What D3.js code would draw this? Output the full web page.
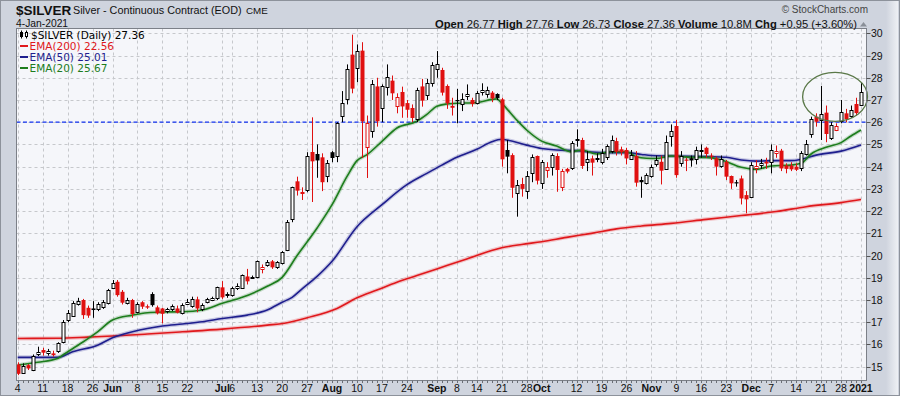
<!DOCTYPE html>
<html>
<head>
<meta charset="utf-8">
<script src="https://cdn.jsdelivr.net/npm/d3@7"></script>
<style>
  body { margin: 0; background: #fff; }
  svg { display: block; }
</style>
</head>
<body>
<svg id="chart" width="900" height="396"></svg>
<script>
// Daily OHLC, 4 May 2020 .. 4 Jan 2021 (170 sessions)
const openP = [15.10,14.73,15.07,14.85,15.57,15.75,15.60,15.60,15.67,16.12,17.10,17.28,17.82,18.00,17.65,17.62,17.58,17.70,17.85,18.57,
  18.82,18.37,17.88,18.00,17.44,17.90,17.72,18.27,17.67,17.62,17.47,17.58,17.62,17.40,17.85,17.70,18.03,17.58,17.88,18.00,
  18.07,18.57,18.20,18.24,18.55,18.54,19.06,19.00,19.02,19.40,19.56,19.74,19.47,19.66,20.26,21.61,23.34,22.80,22.92,24.66,
  24.57,24.42,23.57,24.65,24.46,26.26,27.06,29.04,28.47,29.22,24.87,25.59,27.61,26.64,27.57,27.87,26.71,27.36,26.86,26.64,
  26.16,27.61,27.21,27.76,28.38,28.35,27.63,26.73,27.00,26.82,27.18,27.00,26.85,27.34,27.30,27.33,27.27,27.03,24.75,24.52,
  22.80,23.22,22.92,23.73,24.48,23.28,23.85,24.00,24.48,23.10,23.90,23.92,25.20,25.20,24.18,24.37,24.35,24.22,24.42,24.72,
  25.15,24.78,24.75,24.33,24.48,23.40,23.28,23.55,24.12,24.22,23.92,25.38,25.83,24.15,24.32,24.38,24.33,24.74,24.85,24.50,
  24.37,24.03,24.22,23.58,23.30,23.47,22.72,22.65,23.98,24.10,24.22,24.22,24.60,24.72,24.05,24.05,24.00,23.92,24.57,25.47,
  26.25,26.10,26.43,25.27,25.68,26.07,26.40,26.28,26.82,26.77];
const highP = [15.20,15.15,15.12,15.55,15.90,15.85,15.80,15.72,16.10,17.10,17.55,17.95,18.10,18.05,17.75,17.95,17.90,18.00,18.50,18.90,
  18.90,18.45,18.10,18.05,17.90,17.95,17.80,18.35,17.75,17.65,17.65,17.80,17.75,17.85,18.05,18.15,18.15,17.85,18.10,18.15,
  18.60,18.85,18.35,18.60,18.75,19.15,19.40,19.10,19.78,19.60,19.80,19.80,19.75,20.20,21.60,23.10,23.55,23.07,24.65,26.22,
  25.00,24.60,24.30,24.70,26.00,27.40,28.60,29.94,29.50,29.60,26.30,27.90,28.00,27.70,28.60,28.10,27.30,27.60,27.00,26.80,
  27.55,27.95,27.95,28.70,29.20,28.45,27.70,27.10,27.50,27.30,27.70,27.10,27.40,27.75,27.60,27.40,27.30,27.10,25.20,24.60,
  23.40,23.50,23.80,24.55,24.50,24.30,24.20,24.60,24.60,23.90,23.95,25.15,25.68,25.30,24.70,24.50,24.60,24.80,25.00,25.40,
  25.30,24.90,24.85,24.75,24.70,23.55,23.70,24.10,24.50,24.50,25.40,25.90,26.10,24.70,24.40,24.50,24.90,25.00,24.90,24.60,
  24.45,24.50,24.30,23.60,23.40,23.60,22.90,24.20,24.30,24.35,24.40,25.00,24.95,24.80,24.15,24.20,24.15,24.70,25.20,26.25,
  26.40,27.63,26.75,26.00,25.95,27.00,26.60,26.75,27.10,27.76];
const lowP = [14.62,14.70,14.85,14.80,15.48,15.50,15.50,15.45,15.62,16.05,17.00,17.25,17.75,17.15,17.20,17.20,17.50,17.60,17.80,18.50,
  18.15,17.80,17.80,17.20,17.40,17.60,17.60,17.70,17.35,16.95,17.40,17.50,17.40,17.35,17.80,17.65,17.45,17.50,17.85,17.95,
  18.00,18.05,18.10,18.15,18.45,18.50,18.70,18.95,18.98,19.20,19.50,19.40,19.40,19.60,20.20,21.50,22.70,22.50,22.85,22.41,
  23.50,22.90,23.30,24.20,24.20,26.00,26.80,27.30,27.80,24.39,23.49,25.30,25.80,26.00,27.20,27.00,26.40,26.20,26.20,26.00,
  26.00,26.70,27.00,27.60,28.00,27.20,26.60,26.30,25.95,26.50,27.00,26.70,26.80,27.20,27.10,26.90,27.00,24.00,23.70,22.60,
  21.75,22.65,22.55,23.30,23.20,23.00,23.50,23.60,22.87,22.90,23.70,23.85,24.90,23.90,23.80,23.60,24.20,24.10,24.30,24.60,
  24.50,24.50,24.10,24.30,23.10,22.60,23.20,23.50,24.00,23.20,23.85,24.90,23.50,24.00,23.80,24.00,24.10,24.40,24.40,24.30,
  23.60,23.95,23.40,23.00,23.10,22.30,21.90,22.60,23.70,23.90,23.90,23.70,24.40,23.80,23.70,23.80,23.80,23.80,24.50,25.30,
  25.80,25.20,25.10,25.20,25.60,25.95,26.00,26.20,26.30,26.73];
const closeP = [14.68,15.04,14.92,15.48,15.67,15.63,15.70,15.52,16.05,17.02,17.43,17.88,17.97,17.32,17.30,17.55,17.82,17.92,18.45,18.78,
  18.22,17.88,18.00,17.37,17.82,17.70,17.66,17.77,17.40,17.38,17.58,17.73,17.43,17.77,17.92,18.03,17.62,17.77,18.03,18.08,
  18.57,18.12,18.25,18.54,18.65,19.11,18.84,19.04,19.74,19.49,19.71,19.47,19.69,20.14,21.51,23.07,22.92,22.85,24.46,24.24,
  24.28,23.30,24.16,24.39,25.96,26.86,28.39,27.51,29.22,26.04,25.96,27.72,26.04,27.61,28.02,27.30,27.12,26.71,26.56,26.19,
  27.45,26.97,27.76,28.59,28.62,27.33,26.85,26.65,26.97,27.03,27.27,26.82,27.30,27.45,27.46,27.07,27.09,24.33,24.45,23.05,
  23.17,23.00,23.58,24.45,23.37,24.22,23.97,24.52,23.85,23.80,23.78,25.05,25.25,24.03,24.33,24.18,24.37,24.63,24.93,25.20,
  24.67,24.65,24.37,24.52,23.28,23.30,23.62,23.97,24.30,23.82,25.12,25.60,23.62,24.48,24.27,24.28,24.75,24.76,24.57,24.47,
  24.00,24.33,23.55,23.25,23.27,22.57,22.53,24.07,24.05,24.18,24.14,24.75,24.70,23.92,23.90,23.88,23.86,24.60,25.00,26.13,
  26.02,26.37,25.47,25.87,25.85,26.47,26.13,26.55,26.41,27.36];

// moving averages at selected sessions
const ema200Day = [0,8,14,19,26,33,41,50,54,58,64,68,72,76,80,84,90,97,101,105,110,115,120,125,131,138,145,152,158,165,169];
const ema200Val = [16.27,16.28,16.33,16.38,16.47,16.57,16.69,16.87,16.98,17.20,17.62,18.10,18.45,18.80,19.10,19.40,19.85,20.35,20.50,20.62,20.82,21.00,21.20,21.33,21.45,21.63,21.80,21.98,22.20,22.38,22.52];
const ema50Day = [0,8,11,16,19,23,26,29,33,37,41,46,50,53,55,57,60,63,68,73,78,82,85,88,92,95,97,98,102,105,108,112,115,118,122,125,128,131,138,142,145,148,152,155,157,160,165,169];
const ema50Val = [15.42,15.42,15.67,15.97,16.30,16.57,16.72,16.83,16.92,17.02,17.17,17.32,17.55,17.90,18.12,18.50,19.06,19.74,21.30,22.29,23.19,23.70,24.07,24.42,24.78,25.12,25.23,25.20,24.97,24.82,24.75,24.72,24.66,24.63,24.63,24.55,24.49,24.48,24.45,24.42,24.30,24.25,24.27,24.27,24.33,24.52,24.70,24.98];
const ema20Day = [0,4,8,9,13,16,19,23,26,29,33,37,41,45,50,53,56,60,63,66,68,70,73,76,80,82,84,86,88,92,96,97,100,102,105,108,111,113,116,119,122,124,126,128,131,135,138,141,145,148,151,155,157,159,162,165,167,169];
const ema20Val = [15.07,15.20,15.37,15.52,16.10,16.57,17.10,17.32,17.43,17.46,17.47,17.55,17.85,18.12,18.62,19.02,20.00,21.24,22.29,23.56,24.27,24.54,25.14,25.74,26.04,26.35,26.72,26.82,26.85,26.89,27.05,26.85,26.10,25.65,25.15,24.93,24.67,24.75,24.57,24.67,24.67,24.45,24.38,24.37,24.48,24.42,24.42,24.30,23.97,23.88,24.03,24.07,24.15,24.57,24.87,25.08,25.38,25.65];

// axis labels
const yTicks = d3.range(15, 31);
const xTickDay = [0,5,10,15,19,24,29,34,41,43,48,53,58,63,68,73,78,84,88,92,97,102,105,112,117,122,127,132,137,142,147,151,156,161,165,169];
const xTickText = ["4","11","18","26","Jun","8","15","22","Jul","6","13","20","27","Aug","10","17","24","Sep","8","14","21","28","Oct","12","19","26","Nov","9","16","23","Dec","7","14","21","28","2021"];
const xTickBold = ["Jun","Jul","Aug","Sep","Oct","Nov","Dec","2021"];

// header / legend text
const quoteLabels = ["Open","High","Low","Close","Volume","Chg"];
const quoteValues = ["26.77","27.76","26.73","27.36","10.8M","+0.95 (+3.60%)"];
const legendItems = [
  {label: "EMA(200) 22.56", color: "#e0181c"},
  {label: "EMA(50) 25.01", color: "#1e1e8e"},
  {label: "EMA(20) 25.67", color: "#1d7d1d"}
];
const supportLevel = 26;
const circleMark = {day: 163.8, price: 27.14, dayRadius: 6.5, priceRadius: 1.1};

const svg = d3.select("#chart");
const W = 900, H = 396;
const plot = {left: 16.5, right: 866.5, top: 28.5, bottom: 380.5};

const x = d3.scaleLinear().domain([0, 169]).range([17.7, 861]);
const y = d3.scaleLinear().domain([15, 30]).range([366.7, 33.3]);

const sans = "'Liberation Sans', Arial, sans-serif";

// backgrounds
const defs = svg.append("defs");
const grad = defs.append("linearGradient").attr("id", "edge").attr("x1", 0).attr("x2", 1);
grad.append("stop").attr("offset", 0).attr("stop-color", "#cfd4de");
grad.append("stop").attr("offset", 1).attr("stop-color", "#eef0f4");

svg.append("rect").attr("width", W).attr("height", H).attr("fill", "#cfd4de");
svg.append("rect").attr("x", 886).attr("y", 1).attr("width", 12).attr("height", H - 2).attr("fill", "url(#edge)");
svg.append("rect").attr("x", 0.5).attr("y", 0.5).attr("width", W - 1).attr("height", H - 1)
  .attr("fill", "none").attr("stroke", "#8d929b");

svg.append("rect")
  .attr("x", plot.left).attr("y", plot.top)
  .attr("width", plot.right - plot.left).attr("height", plot.bottom - plot.top)
  .attr("fill", "#f5f6fa");

// grid
const grid = svg.append("g").attr("stroke", "#c6c8cc").attr("stroke-dasharray", "3,3").attr("stroke-width", 1);
grid.selectAll("line.h").data(yTicks).enter().append("line")
  .attr("x1", plot.left).attr("x2", plot.right)
  .attr("y1", d => Math.round(y(d)) + 0.5).attr("y2", d => Math.round(y(d)) + 0.5);
grid.selectAll("line.v").data(xTickDay).enter().append("line")
  .attr("y1", plot.top).attr("y2", plot.bottom)
  .attr("x1", d => Math.round(x(d)) + 0.5).attr("x2", d => Math.round(x(d)) + 0.5);

// support line
svg.append("line")
  .attr("x1", plot.left).attr("x2", plot.right)
  .attr("y1", y(supportLevel)).attr("y2", y(supportLevel))
  .attr("stroke", "#1232f0").attr("stroke-width", 1.3).attr("stroke-dasharray", "4,2.5");

// moving averages
const lineGen = d3.line().x(d => x(d[0])).y(d => y(d[1])).curve(d3.curveMonotoneX);
const emaSeries = [
  {pts: d3.zip(ema200Day, ema200Val), color: legendItems[0].color},
  {pts: d3.zip(ema50Day, ema50Val), color: legendItems[1].color},
  {pts: d3.zip(ema20Day, ema20Val), color: legendItems[2].color}
];
emaSeries.forEach(s => {
  svg.append("path").attr("d", lineGen(s.pts)).attr("fill", "none")
    .attr("stroke", s.color).attr("stroke-opacity", 0.22).attr("stroke-width", 4);
  svg.append("path").attr("d", lineGen(s.pts)).attr("fill", "none")
    .attr("stroke", s.color).attr("stroke-width", 1.6);
});

// candles
const candles = closeP.map((c, i) => ({
  i: i, o: openP[i], h: highP[i], l: lowP[i], c: c,
  prev: i > 0 ? closeP[i - 1] : openP[i]
}));
const red = "#e01010";
const cg = svg.append("g");
candles.forEach(d => {
  const px = Math.round(x(d.i));
  const col = d.c < d.prev ? red : "#000";
  const hollow = d.c >= d.o;
  cg.append("line")
    .attr("x1", px + 0.5).attr("x2", px + 0.5)
    .attr("y1", y(d.h)).attr("y2", y(d.l))
    .attr("stroke", col).attr("stroke-width", 1);
  const top = y(Math.max(d.o, d.c)), bot = y(Math.min(d.o, d.c));
  if (hollow) {
    cg.append("rect")
      .attr("x", px - 1).attr("y", Math.round(top) + 0.5)
      .attr("width", 3).attr("height", Math.max(1, Math.round(bot - top)))
      .attr("fill", "#fff").attr("stroke", col).attr("stroke-width", 1);
  } else {
    cg.append("rect")
      .attr("x", px - 1.5).attr("y", top)
      .attr("width", 4).attr("height", Math.max(1.2, bot - top))
      .attr("fill", col);
  }
});

// annotation ring
svg.append("ellipse")
  .attr("cx", x(circleMark.day)).attr("cy", y(circleMark.price))
  .attr("rx", x(circleMark.dayRadius) - x(0)).attr("ry", y(0) - y(circleMark.priceRadius))
  .attr("fill", "none").attr("stroke", "#5a7848").attr("stroke-width", 1.3);

// plot border
svg.append("rect")
  .attr("x", plot.left).attr("y", plot.top)
  .attr("width", plot.right - plot.left).attr("height", plot.bottom - plot.top)
  .attr("fill", "none").attr("stroke", "#7c8088");

// y axis
const yAx = svg.append("g").attr("font-family", sans).attr("font-size", 10.5).attr("fill", "#111");
yAx.selectAll("line").data(yTicks).enter().append("line")
  .attr("x1", plot.right).attr("x2", plot.right + 4)
  .attr("y1", d => Math.round(y(d)) + 0.5).attr("y2", d => Math.round(y(d)) + 0.5)
  .attr("stroke", "#555");
yAx.selectAll("text").data(yTicks).enter().append("text")
  .attr("x", 871).attr("y", d => y(d) + 4).text(d => d);

// x axis
const xAx = svg.append("g").attr("font-family", sans).attr("font-size", 10.5).attr("fill", "#111");
xAx.selectAll("line").data(d3.range(170)).enter().append("line")
  .attr("x1", d => Math.round(x(d)) + 0.5).attr("x2", d => Math.round(x(d)) + 0.5)
  .attr("y1", plot.bottom).attr("y2", plot.bottom + 2.5)
  .attr("stroke", "#6a6e75");
xAx.selectAll("text").data(xTickDay).enter().append("text")
  .attr("x", d => x(d)).attr("y", 391.5)
  .attr("text-anchor", "middle")
  .attr("font-weight", (d, k) => xTickBold.includes(xTickText[k]) ? "bold" : "normal")
  .text((d, k) => xTickText[k]);

// header
svg.append("text").attr("x", 16).attr("y", 15).attr("font-family", sans)
  .attr("font-size", 13.5).attr("font-weight", "bold").attr("fill", "#111").text("$SILVER");
svg.append("text").attr("x", 73).attr("y", 14).attr("font-family", sans)
  .attr("font-size", 10.8).attr("fill", "#111").text("Silver - Continuous Contract (EOD)");
svg.append("text").attr("x", 246).attr("y", 14).attr("font-family", sans)
  .attr("font-size", 9.8).attr("fill", "#111").text("CME");
svg.append("text").attr("x", 16).attr("y", 26.5).attr("font-family", sans)
  .attr("font-size", 10.3).attr("fill", "#111").text("4-Jan-2021");
svg.append("text").attr("x", 868).attr("y", 12.5).attr("text-anchor", "end").attr("font-family", sans)
  .attr("font-size", 10).attr("fill", "#444").text("\u00a9 StockCharts.com");

const quote = svg.append("text").attr("x", 857).attr("y", 27.5).attr("text-anchor", "end")
  .attr("font-family", sans).attr("font-size", 11.2).attr("fill", "#111");
quoteLabels.forEach((lab, k) => {
  quote.append("tspan").attr("font-weight", "bold").text((k ? " " : "") + lab);
  quote.append("tspan").text(" " + quoteValues[k]);
});
svg.append("path").attr("d", "M860,26.5 L863.5,22 L867,26.5 Z").attr("fill", "#8a8f98");

// legend
const lg = svg.append("g").attr("font-family", "'DejaVu Sans', Verdana, sans-serif").attr("font-size", 10.5);
// small candle glyph
lg.append("line").attr("x1", 21.5).attr("x2", 21.5).attr("y1", 30.5).attr("y2", 38.5).attr("stroke", "#000");
lg.append("rect").attr("x", 20).attr("y", 32).attr("width", 3).attr("height", 5).attr("fill", "#000");
lg.append("line").attr("x1", 26.5).attr("x2", 26.5).attr("y1", 30.5).attr("y2", 38.5).attr("stroke", "#000");
lg.append("rect").attr("x", 25.5).attr("y", 32.5).attr("width", 2).attr("height", 4).attr("fill", "#fff").attr("stroke", "#000");
lg.append("text").attr("x", 31).attr("y", 38.5).attr("fill", "#000").text("$SILVER (Daily) 27.36");
legendItems.forEach((it, k) => {
  const yy = 49.5 + k * 11;
  lg.append("rect").attr("x", 20).attr("y", yy - 4.5).attr("width", 8).attr("height", 2).attr("fill", it.color);
  lg.append("text").attr("x", 29.5).attr("y", yy).attr("fill", it.color).text(it.label);
});
</script>
</body>
</html>
